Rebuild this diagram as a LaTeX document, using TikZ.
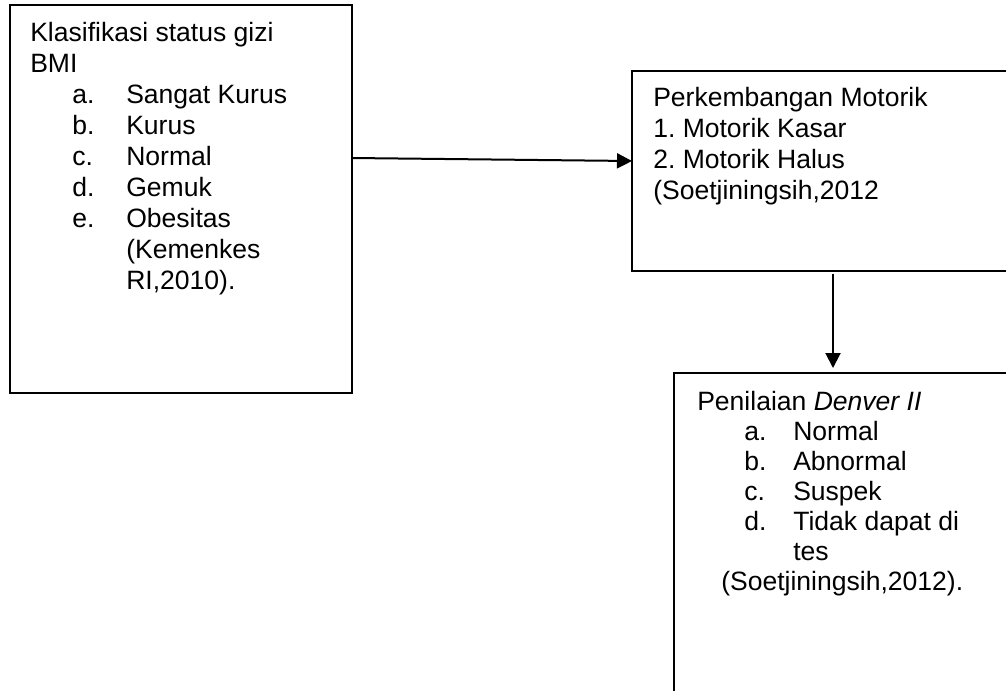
\documentclass[tikz,border=0pt]{standalone}
\usepackage{fontspec}
\setmainfont{Liberation Sans}
\usetikzlibrary{arrows.meta}
\frenchspacing
\newcommand\myitem[3]{\hspace*{#1}\makebox[#2][l]{#3}}
\begin{document}
\begin{tikzpicture}[x=0.75pt,y=-0.75pt,
  box/.style={draw, line width=1.5pt, inner sep=0pt, outer sep=0pt, anchor=north west},
  txt/.style={anchor=base west, inner sep=0pt},
  arr/.style={line width=1.5pt, -{Triangle[length=11.25pt,width=11.25pt]}}]
\useasboundingbox (0,0) rectangle (1006,690);
\clip (0,0) rectangle (1006,690);
\node[box, minimum width=256.5pt, minimum height=291pt] (b1) at (10,5) {};
\node[box, minimum width=301.5pt, minimum height=150pt] (b2) at (632,71) {};
\node[box, minimum width=270pt, minimum height=260pt] (b3) at (674,373) {};
\node[txt] (t1) at (30,41) {\parbox[t]{300pt}{\frenchspacing\fontsize{19.9pt}{23.25pt}\selectfont
Klasifikasi status gizi\\
BMI\\
\myitem{31.5pt}{40.5pt}{a.}Sangat Kurus\\
\myitem{31.5pt}{40.5pt}{b.}Kurus\\
\myitem{31.5pt}{40.5pt}{c.}Normal\\
\myitem{31.5pt}{40.5pt}{d.}Gemuk\\
\myitem{31.5pt}{40.5pt}{e.}Obesitas\\
\myitem{31.5pt}{40.5pt}{}(Kemenkes\\
\myitem{31.5pt}{40.5pt}{}RI,2010).\par}};
\node[txt] (t2) at (653,106) {\parbox[t]{300pt}{\frenchspacing\fontsize{19.9pt}{23.25pt}\selectfont
Perkembangan Motorik\\
1. Motorik Kasar\\
2. Motorik Halus\\
(Soetjiningsih,2012\par}};
\node[txt] (t3) at (697,410) {\parbox[t]{300pt}{\frenchspacing\fontsize{19.9pt}{22.5pt}\selectfont
Penilaian \textit{Denver II}\\
\myitem{35.25pt}{36.75pt}{a.}Normal\\
\myitem{35.25pt}{36.75pt}{b.}Abnormal\\
\myitem{35.25pt}{36.75pt}{c.}Suspek\\
\myitem{35.25pt}{36.75pt}{d.}Tidak dapat di\\
\myitem{35.25pt}{36.75pt}{}tes\\
\hspace*{18pt}(Soetjiningsih,2012).\par}};
\draw[arr] ([yshift=30.75pt]b1.east) -- ([yshift=7.5pt]b2.west);
\draw[arr, shorten <=2.25pt, shorten >=3.75pt] (b2.south) -- (b2.south |- b3.north);
\end{tikzpicture}
\end{document}
